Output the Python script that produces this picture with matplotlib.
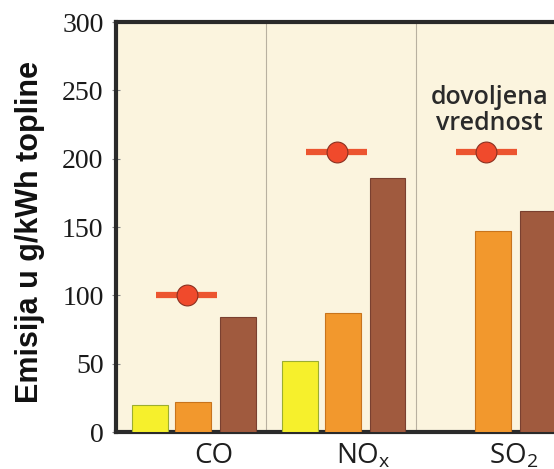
import matplotlib
matplotlib.use("Agg")
import matplotlib.pyplot as plt
import numpy as np

# emission values (g/kWh)
pollutants = ["CO", r"NO$_\mathrm{x}$", r"SO$_\mathrm{2}$"]
yellow = [20, 52, None]
orange = [22, 87, 147]
brown = [84, 186, 162]
limits = [100, 205, 205]

yticks = [0, 50, 100, 150, 200, 250, 300]

series = [
	(yellow, "#F6F02C", "#9cae30", 0.225),
	(orange, "#F2982D", "#c8741c", 0.515),
	(brown, "#A05A3E", "#7a4030", 0.81),
]

plt.rcParams["mathtext.fontset"] = "custom"
plt.rcParams["mathtext.rm"] = "Open Sans"

fig = plt.figure(figsize=(5.54, 4.69), dpi=100)
ax = fig.add_axes([116 / 554, 37 / 469, 438 / 554, 410 / 469])
ax.set_facecolor("#FBF4DE")

groups = np.arange(len(pollutants))
for values, color, edge, off in series:
	for g, v in zip(groups, values):
		if v is None:
			continue
		ax.bar(g + off, v, width=0.24, color=color, edgecolor=edge, linewidth=0.8, zorder=3)

ax.errorbar(groups + 0.47, limits, xerr=0.205, fmt="o", ms=15, mfc="#F04A2C", mec="#8a3020",
	mew=0.8, ecolor="#EC5530", elinewidth=4.5, capsize=0, zorder=4)

for g in groups[1:]:
	ax.axvline(g, color="#b8b0a0", lw=0.8, zorder=1)

for g, name in zip(groups, pollutants):
	ax.text(g + 0.65, -0.058, name, transform=ax.get_xaxis_transform(), ha="center", va="center",
		fontsize=20, family="Open Sans", color="#1e1e1e")

ax.text(2.49, 235, "dovoljena\nvrednost", ha="center", va="center", fontsize=18,
	family="Open Sans", weight="semibold", color="#2a2a2a", linespacing=1.05)

ax.set_xlim(0, 438 / 150)
ax.set_ylim(0, 300)
ax.set_xticks([])
ax.set_yticks(yticks)
ax.set_yticklabels([str(t) for t in yticks], family="Liberation Serif", fontsize=20,
	color="#1a1a1a")
ax.tick_params(axis="y", direction="inout", length=6, width=0.8, color="#888888", pad=6)

for side in ["left", "top", "bottom"]:
	ax.spines[side].set_linewidth(3)
	ax.spines[side].set_color("#2a2a2a")
ax.spines["right"].set_visible(False)

fig.text(30 / 554, 1 - 232 / 469, "Emisija u g/kWh topline", rotation=90, ha="center", va="center",
	fontsize=22, weight="bold", family="Liberation Sans", color="#111111")

fig.savefig("out.png", dpi=100)
